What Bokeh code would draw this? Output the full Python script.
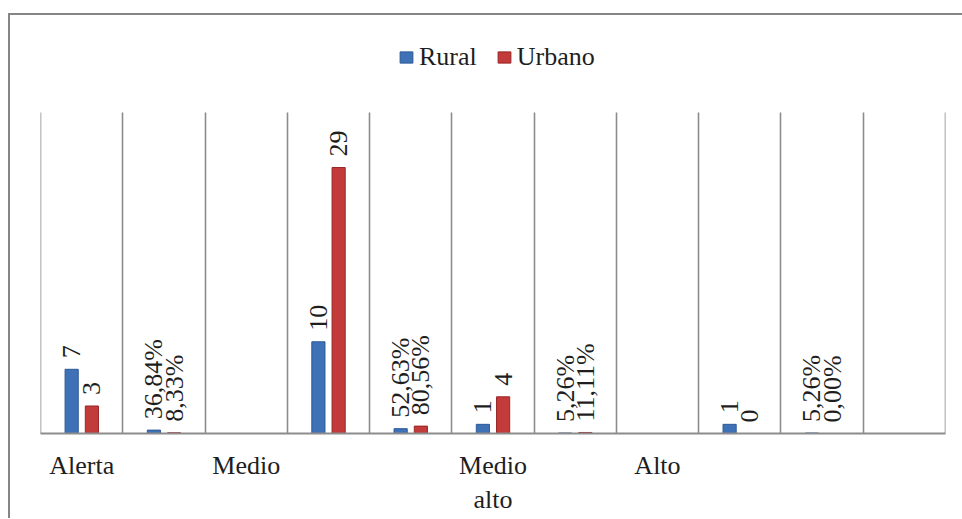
import numpy as np
from bokeh.plotting import figure
from bokeh.models import (ColumnDataSource, FixedTicker, Legend, LegendItem, Range1d,
                          LabelSet)
from bokeh.transform import dodge
from bokeh.embed import file_html
from bokeh.resources import INLINE
from bokeh.core.properties import value

# ---- data ----
slot_labels = ["Alerta", "", "Medio", "", "", "Medio\nalto", "", "Alto", "", "", ""]
rural = [7, 0.3684, None, 10, 0.5263, 1, 0.0526, None, 1, 0.0526, None]
urbano = [3, 0.0833, None, 29, 0.8056, 4, 0.1111, None, 0, 0.0000, None]
is_pct = [False, True, False, False, True, False, True, False, False, True, False]
series_names = ["Rural", "Urbano"]
y_max = 35


def fmt(v, pct):
    if pct:
        return f"{v * 100:.2f}%".replace(".", ",")
    return str(int(v))


def make_source(vals):
    xs, ys, labs = [], [], []
    for i, (v, p) in enumerate(zip(vals, is_pct)):
        if v is None:
            continue
        xs.append(i + 0.5)
        ys.append(v)
        labs.append(fmt(v, p))
    return ColumnDataSource(dict(x=xs, v=ys, lab=labs))


src_r = make_source(rural)
src_u = make_source(urbano)

SERIF = "Liberation Serif"
FS = "26px"
TXT = "#1e1e1e"
BLUE, BLUE_D = "#3f71b7", "#2c5a98"
RED, RED_D = "#c23a3a", "#9a2626"

# layout (pixels)
FRAME_W, FRAME_H = 905, 418      # frame reaches the top so the legend is not clipped
GRID_PX = 321                    # height of the value area (0 .. y_max)
y_top = y_max * FRAME_H / GRID_PX

p = figure(x_range=Range1d(-0.002, len(slot_labels) + 0.002),
           y_range=Range1d(0, y_top),
           frame_width=FRAME_W, frame_height=FRAME_H,
           min_border_left=30, min_border_right=17,
           min_border_top=0, min_border_bottom=85,
           output_backend="svg", toolbar_location=None,
           styles={"margin-left": "8px", "margin-top": "13px",
                   "border-left": "2px solid #858585",
                   "border-top": "2px solid #858585"})
p.outline_line_color = None
p.background_fill_color = "white"
p.border_fill_color = "white"

off, bw = 0.123, 0.16
r1 = p.vbar(x=dodge("x", -off), top="v", width=bw, source=src_r,
            fill_color=BLUE, line_color=BLUE_D, line_width=1)
r2 = p.vbar(x=dodge("x", off), top="v", width=bw, source=src_u,
            fill_color=RED, line_color=RED_D, line_width=1)

for src, o in ((src_r, -off), (src_u, off)):
    p.add_layout(LabelSet(x=dodge("x", o), y="v", text="lab", source=src,
                          angle=np.pi / 2, text_align="left",
                          text_baseline="middle", y_offset=11,
                          text_font=value(SERIF), text_font_size=value(FS),
                          text_color=TXT))

# axes and grid
p.yaxis.visible = False
p.ygrid.visible = False
g = p.xgrid[0]
g.ticker = FixedTicker(ticks=list(range(len(slot_labels) + 1)))
g.grid_line_color = "#8c8c8c"
g.grid_line_width = 1.6
g.cross_bounds = (0, y_max)

ticks = [i + 0.5 for i, l in enumerate(slot_labels) if l]
p.xaxis.ticker = FixedTicker(ticks=ticks)
p.xaxis.major_label_overrides = {i + 0.5: l for i, l in enumerate(slot_labels) if l}
p.xaxis.bounds = (0, len(slot_labels))
p.xaxis.axis_line_color = "#8c8c8c"
p.xaxis.axis_line_width = 2
p.xaxis.major_tick_line_color = None
p.xaxis.minor_tick_line_color = None
p.xaxis.major_label_text_font = SERIF
p.xaxis.major_label_text_font_size = FS
p.xaxis.major_label_text_color = TXT
p.xaxis.major_label_standoff = 11

legend = Legend(items=[LegendItem(label=series_names[0], renderers=[r1]),
                       LegendItem(label=series_names[1], renderers=[r2])],
                orientation="horizontal", location=(358, 361),
                label_text_font=SERIF, label_text_font_size=FS,
                label_text_color=TXT, label_height=15,
                glyph_width=16, glyph_height=14, label_standoff=5, spacing=19,
                padding=0, margin=0, border_line_color=None,
                background_fill_alpha=0)
p.add_layout(legend)

open("out.html", "w").write(file_html(p, INLINE))
